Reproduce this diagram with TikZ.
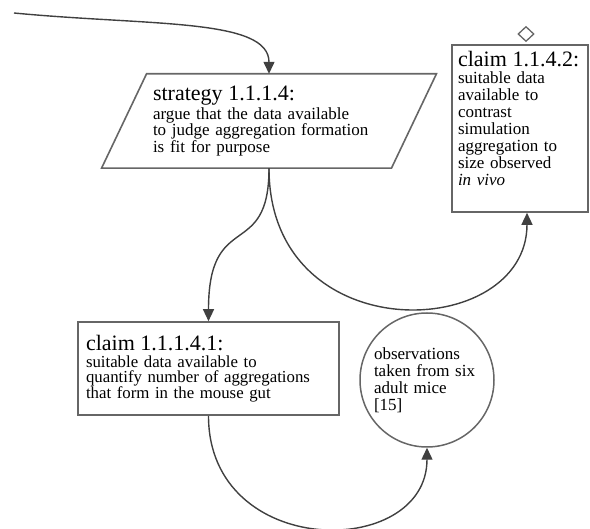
\documentclass[tikz,border=0pt]{standalone}
\usepackage{fontspec}
\setmainfont{Liberation Serif}
\usetikzlibrary{arrows.meta,positioning,calc,shapes.geometric}
\newcommand{\bodyfont}{\fontsize{17}{15}\selectfont}
\newcommand{\headfont}{\fontsize{22}{22}\selectfont}
\tikzset{
  claimbox/.style = {draw=black!60, line width=1.6pt, rectangle, align=left,
                     inner xsep=8pt, inner ysep=3pt, font=\bodyfont},
  stratbox/.style = {rectangle, align=left, minimum width=289.5pt,
                     minimum height=94pt, text width=232pt, font=\bodyfont},
  stratline/.style = {draw=black!60, line width=1.6pt, line join=miter},
  ctxnode/.style  = {draw=black!60, line width=1.5pt, circle, align=left,
                     text width=106pt, minimum size=134pt, inner sep=0pt,
                     font=\fontsize{17}{17}\selectfont},
  link/.style     = {-{Triangle[length=12pt,width=11pt]}, draw=black!75,
                     line width=1.4pt},
}

\begin{document}
\begin{tikzpicture}[x=1pt,y=-1pt]
\useasboundingbox (0,0) rectangle (590,529);
% ---------- strategy ----------
\node[stratbox] (strat) at (269,121)
  {{\headfont strategy 1.1.1.4:}\\[1pt]argue that the data available\\to judge aggregation formation\\is fit for purpose};
\draw[stratline] ($(strat.north west)+(22.5,0)$) -- ($(strat.north east)+(22.5,0)$)
  -- ($(strat.south east)+(-22.5,0)$) -- ($(strat.south west)+(-22.5,0)$) -- cycle;
\coordinate (in) at (14,13);
\draw[link] (in) .. controls (150,26) and (269,18) .. (strat.north);
% ---------- claims ----------
\node[claimbox, minimum width=261pt, minimum height=93pt, text width=245pt,
      font=\fontsize{16.8}{15.6}\selectfont] (c1) at (208.5,368.5)
  {{\headfont claim 1.1.1.4.1:}\\[1pt]suitable data available to\\quantify number of aggregations\\that form in the mouse gut};
\node[claimbox, inner xsep=6pt, text width=124pt, minimum height=167pt,
      font=\fontsize{17}{17}\selectfont] (c2) at (520,128.5)
  {{\headfont claim 1.1.4.2:}\\suitable data\\available to\\contrast\\simulation\\aggregation to\\size observed\\\textit{in vivo}\\[3pt]\mbox{}};
\node[diamond, draw=black!60, line width=1.3pt, minimum width=16pt, minimum height=15pt,
      inner sep=0pt] (c2mark) at (526,34) {};
% ---------- context ----------
\node[ctxnode, xshift=3pt] (obs) at (424,380) {observations\\taken from six\\adult mice\\{[15]}};
% ---------- links ----------
\draw[link] (strat.south) .. controls (269,262) and (208.5,208) .. (c1.north);
\draw[link] (strat.south) .. controls (269,352) and (527,342) .. ([xshift=7pt]c2.south);
\draw[link] (c1.south) .. controls (208.5,560) and (427,560) .. (obs.south);
\end{tikzpicture}
\end{document}
